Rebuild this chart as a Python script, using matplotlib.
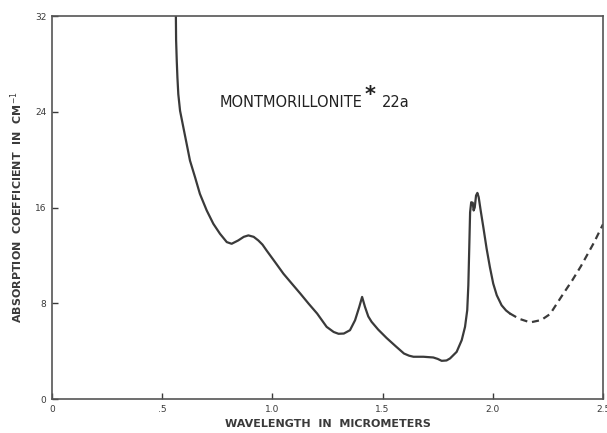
import numpy as np
import matplotlib
matplotlib.use("Agg")
import matplotlib.pyplot as plt

# measured curve (wavelength in micrometers, absorption coefficient in cm^-1)
wl_solid = [0.562, 0.563, 0.566, 0.569, 0.573, 0.581, 0.596, 0.611, 0.626, 0.649,
            0.671, 0.702, 0.732, 0.762, 0.793, 0.815, 0.845, 0.870, 0.891, 0.915,
            0.936, 0.955, 0.974, 1.012, 1.05, 1.09, 1.127, 1.165, 1.203, 1.246,
            1.278, 1.300, 1.324, 1.352, 1.375, 1.394, 1.407, 1.420, 1.435, 1.450,
            1.48, 1.518, 1.56, 1.597, 1.62, 1.64, 1.685, 1.73, 1.750, 1.768,
            1.790, 1.806, 1.836, 1.859, 1.874, 1.884, 1.889, 1.893, 1.897, 1.902,
            1.909, 1.913, 1.918, 1.924, 1.930, 1.936, 1.945, 1.957, 1.972, 1.987,
            2.002, 2.018, 2.040, 2.060, 2.078]
abs_solid = [32.0, 30.0, 28.25, 26.86, 25.47, 24.08, 22.69, 21.31, 19.92, 18.53,
             17.14, 15.75, 14.64, 13.81, 13.11, 12.97, 13.25, 13.55, 13.67, 13.55,
             13.25, 12.9, 12.4, 11.44, 10.47, 9.6, 8.8, 7.95, 7.14, 6.03,
             5.6, 5.45, 5.47, 5.75, 6.58, 7.69, 8.53, 7.7, 6.9, 6.45,
             5.8, 5.1, 4.4, 3.8, 3.62, 3.53, 3.53, 3.47, 3.35, 3.19,
             3.22, 3.39, 3.94, 4.92, 6.03, 7.42, 9.5, 12.5, 15.6, 16.44,
             16.4, 15.75, 16.0, 17.0, 17.22, 16.86, 15.75, 14.36, 12.56, 11.0,
             9.64, 8.67, 7.83, 7.4, 7.14]

# extrapolated part drawn dashed
wl_dash = [2.078, 2.12, 2.17, 2.22, 2.26, 2.32, 2.36, 2.40, 2.46, 2.50]
abs_dash = [7.14, 6.7, 6.4, 6.6, 7.1, 8.8, 9.9, 11.1, 13.1, 14.6]

x_ticks = [0, 0.5, 1.0, 1.5, 2.0, 2.5]
x_tick_labels = ["0", ".5", "1.0", "1.5", "2.0", "2.5"]
y_ticks = [0, 8, 16, 24, 32]
y_tick_labels = ["0", "8", "16", "24", "32"]

ink = "#3a3a3a"

fig = plt.figure(figsize=(6.07, 4.33), dpi=100)
ax = fig.add_axes([0.0857, 0.0785, 0.9077, 0.8845])

ax.plot(wl_solid, abs_solid, color=ink, lw=1.6, solid_joinstyle="round")
ax.plot(wl_dash, abs_dash, color=ink, lw=1.6, ls=(0, (3.2, 2.2)))

ax.set_xlim(0, 2.5)
ax.set_ylim(0, 32)

ax.set_xticks(x_ticks)
ax.set_xticklabels(x_tick_labels)
ax.set_yticks(y_ticks)
ax.set_yticklabels(y_tick_labels)
ax.tick_params(direction="in", length=4, width=1.0, colors=ink,
               labelsize=6.5, pad=4)

for sp in ax.spines.values():
    sp.set_color("#555555")
    sp.set_linewidth(1.2)

ax.set_xlabel("WAVELENGTH  IN  MICROMETERS", fontsize=8, fontweight="bold",
              color=ink, labelpad=4)
ax.set_ylabel("ABSORPTION  COEFFICIENT  IN  CM$^{-1}$", fontsize=8,
              fontweight="bold", color=ink, labelpad=7)

ax.text(0.762, 24.8, "MONTMORILLONITE", fontsize=10.5, color="#222222",
        va="center", ha="left")
ax.text(1.443, 25.4, "*", fontsize=15, fontweight="bold", color="#222222",
        va="center", ha="center")
ax.text(1.497, 24.8, "22a", fontsize=10.5, color="#222222",
        va="center", ha="left")

fig.savefig("out.png", dpi=100)
